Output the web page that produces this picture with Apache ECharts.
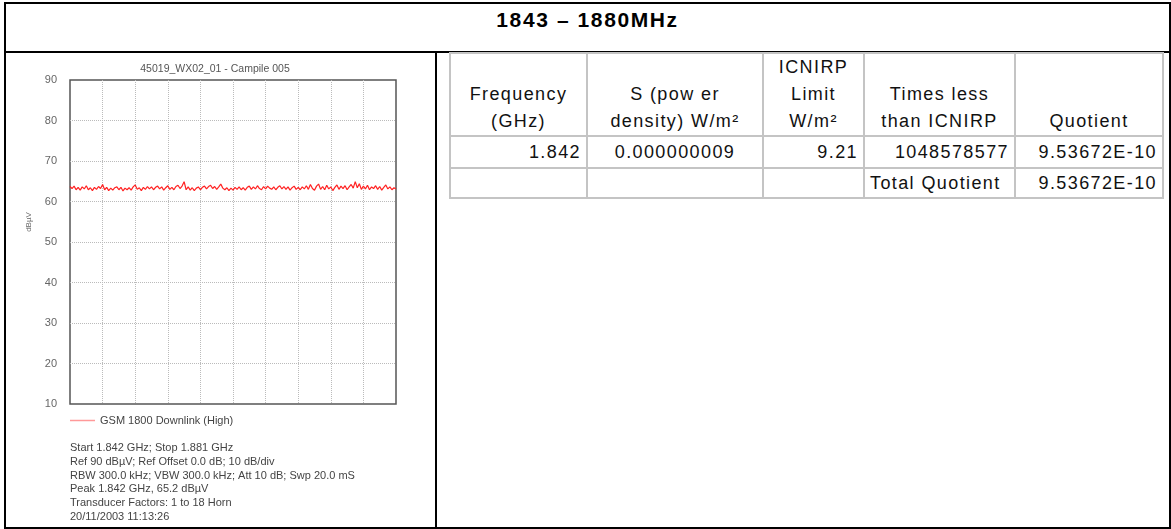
<!DOCTYPE html>
<html lang="en">
<head>
  <meta charset="UTF-8">
  <title>1843 - 1880MHz</title>
  <script src="https://cdn.jsdelivr.net/npm/echarts@6/dist/echarts.min.js"></script>
  <style>
    body { margin: 0; background: #fff; }
    #page { position: relative; width: 1171px; height: 529px; overflow: hidden; }
    #frame { position: absolute; left: 4px; top: 2px; width: 1167px; height: 527px; box-sizing: border-box; border: 2px solid #000; }
    #hline { position: absolute; left: 4px; top: 51px; width: 1167px; height: 2px; background: #000; }
    #vline { position: absolute; left: 435px; top: 51px; width: 2px; height: 478px; background: #000; }
    #title { position: absolute; left: 4px; width: 1167px; top: 8px; text-align: center;
             font: bold 21px 'Liberation Sans', Arial, sans-serif; line-height: 24px; letter-spacing: 1.6px; color: #000; }
    #chart { position: absolute; left: 0; top: 0; width: 435px; height: 529px; }
    #tbl { position: absolute; left: 449px; top: 52px; border-collapse: collapse; table-layout: fixed;
           font: 18px 'Liberation Sans', Arial, sans-serif; letter-spacing: 1.4px; color: #111; }
    #tbl td { border: 2px solid #c4c4c4; padding: 0 5px; white-space: nowrap; overflow: hidden; }
    #tbl tr.head td { text-align: center; vertical-align: bottom; line-height: 27px; }
  </style>
</head>
<body>
<div id="page">
  <div id="frame"></div>
  <div id="hline"></div>
  <div id="vline"></div>
  <div id="title">1843 – 1880MHz</div>
  <div id="chart"></div>
  <table id="tbl"></table>
</div>
<script type="text/javascript">
  // trace: GSM 1800 downlink, 1.842 - 1.881 GHz, dBµV
  var level = [
    63.7, 63.2, 63.8, 62.9, 63.5, 62.8, 63.6, 63.1, 63.9, 62.9,
    63.4, 62.7, 63.5, 63.0, 63.7, 63.2, 64.2, 62.9, 63.5, 62.7,
    63.3, 62.8, 63.4, 63.6, 62.9, 63.5, 62.6, 63.3, 62.9, 63.4,
    62.8, 63.6, 64.1, 63.0, 63.4, 62.7, 63.5, 63.0, 63.7, 63.1,
    63.6, 62.9, 63.5, 63.8, 63.1, 63.6, 62.8, 63.4, 63.9, 63.0,
    63.5, 62.9, 63.7, 64.0, 63.2, 63.8, 64.9, 62.9, 63.6, 62.8,
    63.4, 62.7, 63.3, 63.6, 62.9, 63.5, 63.8, 63.1, 63.7, 64.0,
    63.2, 63.7, 63.0, 63.6, 64.3, 63.3, 62.9, 63.4, 62.7, 63.3,
    62.8, 63.5, 63.0, 63.6, 62.9, 63.4, 62.8, 63.5, 63.8, 63.0,
    63.6, 63.1, 63.9, 63.2, 62.9, 63.7, 63.1, 63.8, 63.3, 63.0,
    63.6, 62.9, 63.5, 63.9, 63.1, 63.7, 63.0, 63.6, 62.8, 63.4,
    63.8, 63.0, 63.5, 62.9, 63.6, 63.1, 63.9, 63.0, 64.2, 63.2,
    62.8, 63.8, 64.3, 63.0, 63.7, 62.9, 64.0, 63.1, 63.6, 62.7,
    63.5, 64.1, 63.0, 63.8, 63.2, 63.9, 62.9, 63.6, 64.2, 63.3,
    64.9, 63.4, 64.4, 63.0, 63.8, 63.1, 64.0, 62.9, 63.6, 63.2,
    63.9, 63.0, 63.7, 62.8, 63.5, 64.1, 63.1, 63.6, 62.9, 63.4,
    63.1
  ];
  var yMin = 10, yMax = 90, yStep = 10;
  var xDivisions = 10;
  var chartTitle = '45019_WX02_01 - Campile 005';
  var seriesName = 'GSM 1800 Downlink (High)';
  var unitName = 'dBµV';
  var infoLines = [
    'Start 1.842 GHz; Stop 1.881 GHz',
    'Ref 90 dBµV; Ref Offset 0.0 dB; 10 dB/div',
    'RBW 300.0 kHz; VBW 300.0 kHz; Att 10 dB; Swp 20.0 mS',
    'Peak 1.842 GHz, 65.2 dBµV',
    'Transducer Factors: 1 to 18 Horn',
    '20/11/2003 11:13:26'
  ];

  // table on the right
  var tableHead = ['Frequency<br>(GHz)', 'S (pow er<br>density) W/m²', 'ICNIRP<br>Limit<br>W/m²', 'Times less<br>than ICNIRP', 'Quotient'];
  var tableRows = [
    ['1.842', '0.000000009', '9.21', '1048578577', '9.53672E-10'],
    ['', '', '', 'Total Quotient', '9.53672E-10']
  ];
  var colWidths = [137, 176, 101, 151, 148];
  var rowAlign = [
    ['right', 'center', 'right', 'right', 'right'],
    ['right', 'center', 'right', 'left', 'right']
  ];
  var rowHeights = [32, 30];

  var tbl = document.getElementById('tbl');
  var html = '<colgroup>';
  colWidths.forEach(function (w) { html += '<col style="width:' + w + 'px">'; });
  html += '</colgroup><tr class="head" style="height:81px">';
  tableHead.forEach(function (h) { html += '<td>' + h + '</td>'; });
  html += '</tr>';
  tableRows.forEach(function (r, ri) {
    html += '<tr style="height:' + rowHeights[ri] + 'px">';
    r.forEach(function (c, ci) { html += '<td style="text-align:' + rowAlign[ri][ci] + '">' + c + '</td>'; });
    html += '</tr>';
  });
  tbl.innerHTML = html;
  tbl.style.width = colWidths.reduce(function (a, b) { return a + b; }, 0) + 'px';

  var myChart = echarts.init(document.getElementById('chart'));
  var pts = level.map(function (v, i) { return [i, v]; });
  var nPts = level.length - 1;

  var option = {
    animation: false,
    textStyle: { fontFamily: 'Liberation Sans, Arial, sans-serif' },
    title: {
      text: chartTitle,
      left: 210, top: 59, textAlign: 'center',
      textStyle: { fontSize: 10.5, fontWeight: 'normal', color: '#555' }
    },
    legend: {
      data: [seriesName],
      left: 70, top: 415, padding: 0,
      icon: 'rect', itemWidth: 25, itemHeight: 1.5,
      itemStyle: { color: '#f99' },
      textStyle: { fontSize: 11, color: '#444' }
    },
    grid: { left: 70, top: 80, width: 326, height: 324, show: true, borderColor: '#555', borderWidth: 1.5 },
    xAxis: {
      type: 'value', min: 0, max: nPts, interval: nPts / xDivisions,
      axisLabel: { show: false }, axisTick: { show: false }, axisLine: { show: false },
      splitLine: { show: true, showMinLine: false, showMaxLine: false, lineStyle: { color: '#bbb', type: 'dotted', width: 1 } }
    },
    yAxis: {
      type: 'value', min: yMin, max: yMax, interval: yStep,
      axisLabel: { fontSize: 11, color: '#666', margin: 13, padding: [6, 0, 0, 0] },
      axisTick: { show: false }, axisLine: { show: false },
      splitLine: { show: true, showMinLine: false, showMaxLine: false, lineStyle: { color: '#bbb', type: 'dotted', width: 1 } }
    },
    graphic: [
      {
        type: 'text', x: 29, y: 222, rotation: Math.PI / 2,
        style: { text: unitName, font: '8px Liberation Sans', fill: '#666', textAlign: 'center', textVerticalAlign: 'middle' }
      },
      {
        type: 'text', left: 70, top: 441,
        style: { text: infoLines.join('\n'), font: '11px Liberation Sans', fill: '#444', lineHeight: 13.8 }
      }
    ],
    series: [
      {
        name: seriesName, type: 'line', data: pts,
        symbol: 'none', lineStyle: { color: '#f22', width: 1.2 }
      }
    ]
  };
  myChart.setOption(option);
</script>
</body>
</html>
